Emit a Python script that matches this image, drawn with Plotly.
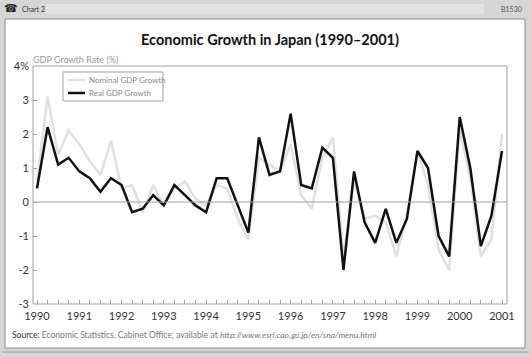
import plotly.graph_objects as go

# ---- data (quarterly, 1990Q1 - 2001Q1) ----
start_year = 1990
quarters_per_year = 4
real_gdp = [0.4, 2.2, 1.1, 1.3, 0.9, 0.7, 0.3, 0.7, 0.5, -0.3, -0.2, 0.2, -0.1, 0.5, 0.2,
            -0.1, -0.3, 0.7, 0.7, -0.1, -0.9, 1.9, 0.8, 0.9, 2.6, 0.5, 0.4, 1.6, 1.3, -2.0,
            0.9, -0.6, -1.2, -0.2, -1.2, -0.5, 1.5, 1.0, -1.0, -1.6, 2.5, 1.0, -1.3, -0.4, 1.5]
nominal_gdp = [0.6, 3.1, 1.4, 2.1, 1.7, 1.2, 0.8, 1.8, 0.4, 0.5, -0.3, 0.5, -0.1, 0.4, 0.6,
               0.1, -0.1, 0.5, 0.4, -0.5, -1.1, 1.3, 1.1, 0.9, 1.7, 0.2, -0.2, 1.3, 1.9, -1.6,
               0.6, -0.5, -0.4, -0.6, -1.6, -0.4, 1.5, 0.5, -1.4, -2.0, 2.1, 0.7, -1.6, -1.1, 2.0]
series_names = ["Nominal GDP Growth", "Real GDP Growth"]
year_ticks = list(range(1990, 2002))
y_ticks = [4, 3, 2, 1, 0, -1, -2, -3]
y_tick_labels = ["4%", "3", "2", "1", "0", "-1", "-2", "-3"]

x_vals = [start_year + i / quarters_per_year for i in range(len(real_gdp))]

W, H = 531, 357
L, R, T, B = 33, 507, 66, 304
FONT = "Lato"
NOM_COLOR = "#e0e0e0"
REAL_COLOR = "#111111"


def px(x):
    return (x - L) / (R - L)


def py(y):
    return (B - y) / (B - T)


fig = go.Figure()
fig.add_trace(go.Scatter(x=x_vals, y=nominal_gdp, mode="lines", name=series_names[0],
                         line=dict(color=NOM_COLOR, width=2.5), showlegend=False))
fig.add_trace(go.Scatter(x=x_vals, y=real_gdp, mode="lines", name=series_names[1],
                         line=dict(color=REAL_COLOR, width=2.5), showlegend=False))

shapes = []
# white panel inside grey frame
shapes.append(dict(type="rect", xref="paper", yref="paper", x0=px(5), x1=px(525), y0=py(348), y1=py(19),
                   fillcolor="white", line=dict(color="#8a8a8a", width=1), layer="below"))
# bottom line
shapes.append(dict(type="line", xref="paper", yref="paper", x0=px(2), x1=px(529), y0=py(352), y1=py(352),
                   line=dict(color="#9a9a9a", width=1)))
# title bar stripes
for sy in [5, 7, 9, 11, 13]:
    shapes.append(dict(type="line", xref="paper", yref="paper", x0=px(46), x1=px(484), y0=py(sy), y1=py(sy),
                       line=dict(color="#f0f0f0", width=1)))
# plot box
shapes.append(dict(type="rect", xref="paper", yref="paper", x0=0, x1=1, y0=0, y1=1,
                   line=dict(color="#a0a0a0", width=1)))
# zero line
shapes.append(dict(type="line", xref="paper", yref="y", x0=0, x1=1, y0=0, y1=0,
                   line=dict(color="#a0a0a0", width=1)))
# legend box and keys
shapes.append(dict(type="rect", xref="paper", yref="paper", x0=px(63), x1=px(163), y0=py(101), y1=py(72),
                   fillcolor="white", line=dict(color="#a0a0a0", width=1)))
shapes.append(dict(type="line", xref="paper", yref="paper", x0=px(68), x1=px(85), y0=py(80), y1=py(80),
                   line=dict(color=NOM_COLOR, width=2.5)))
shapes.append(dict(type="line", xref="paper", yref="paper", x0=px(68), x1=px(85), y0=py(93), y1=py(93),
                   line=dict(color=REAL_COLOR, width=2.5)))

annotations = [
    dict(text="☎", x=px(11), y=py(9), xref="paper", yref="paper", showarrow=False,
         font=dict(family="DejaVu Sans", size=11, color="#222"), xanchor="center", yanchor="middle"),
    dict(text="Chart 2", x=px(20), y=py(9), xref="paper", yref="paper", showarrow=False,
         font=dict(family=FONT, size=7, color="#333"), xanchor="left", yanchor="middle"),
    dict(text="B1530", x=px(524), y=py(9), xref="paper", yref="paper", showarrow=False,
         font=dict(family=FONT, size=7, color="#555"), xanchor="right", yanchor="middle"),
    dict(text="GDP Growth Rate (%)", x=px(31), y=py(59), xref="paper", yref="paper", showarrow=False,
         font=dict(family=FONT, size=9, color="#999"), xanchor="left", yanchor="middle"),
    dict(text=series_names[0], x=px(87), y=py(80), xref="paper", yref="paper", showarrow=False,
         font=dict(family=FONT, size=8, color="#888"), xanchor="left", yanchor="middle"),
    dict(text=series_names[1], x=px(87), y=py(93), xref="paper", yref="paper", showarrow=False,
         font=dict(family=FONT, size=8, color="#888"), xanchor="left", yanchor="middle"),
    dict(text="<span style='color:#333'>Source:</span> Economic Statistics, Cabinet Office; available at "
              "<i>http://www.esri.cao.go.jp/en/sna/menu.html</i>",
         x=px(10), y=py(335), xref="paper", yref="paper", showarrow=False,
         font=dict(family=FONT, size=8.5, color="#777"), xanchor="left", yanchor="middle"),
]

fig.update_layout(
    width=W, height=H,
    margin=dict(l=L, r=W - R, t=T, b=H - B, pad=0),
    paper_bgcolor="#d6d6d6", plot_bgcolor="white",
    title=dict(text="Economic Growth in Japan (1990–2001)", x=0.5, xref="paper", y=1 - 40 / H,
               yanchor="middle", font=dict(family=FONT, size=14.5, color="#111", weight=700)),
    showlegend=False,
    shapes=shapes, annotations=annotations,
    xaxis=dict(range=[1990 - 4 / 42.27, 2001 + 5 / 42.27], tickvals=year_ticks,
               ticktext=[str(y) for y in year_ticks], ticks="inside", ticklen=4, tickcolor="#a0a0a0",
               showgrid=False, zeroline=False, showline=False,
               minor=dict(dtick=0.25, tick0=1990, ticks="inside", ticklen=4, tickcolor="#a0a0a0", showgrid=False),
               tickfont=dict(family=FONT, size=11, color="#333"), ticklabelstandoff=4),
    yaxis=dict(range=[-3, 4], tickvals=y_ticks, ticktext=y_tick_labels, ticks="inside", ticklen=4,
               tickcolor="#a0a0a0", showgrid=False, zeroline=False, showline=False,
               tickfont=dict(family=FONT, size=11, color="#333"), ticklabelstandoff=3),
)

fig.write_html("out.html", config={"displayModeBar": False},
               post_script="document.body.style.margin='0';")
